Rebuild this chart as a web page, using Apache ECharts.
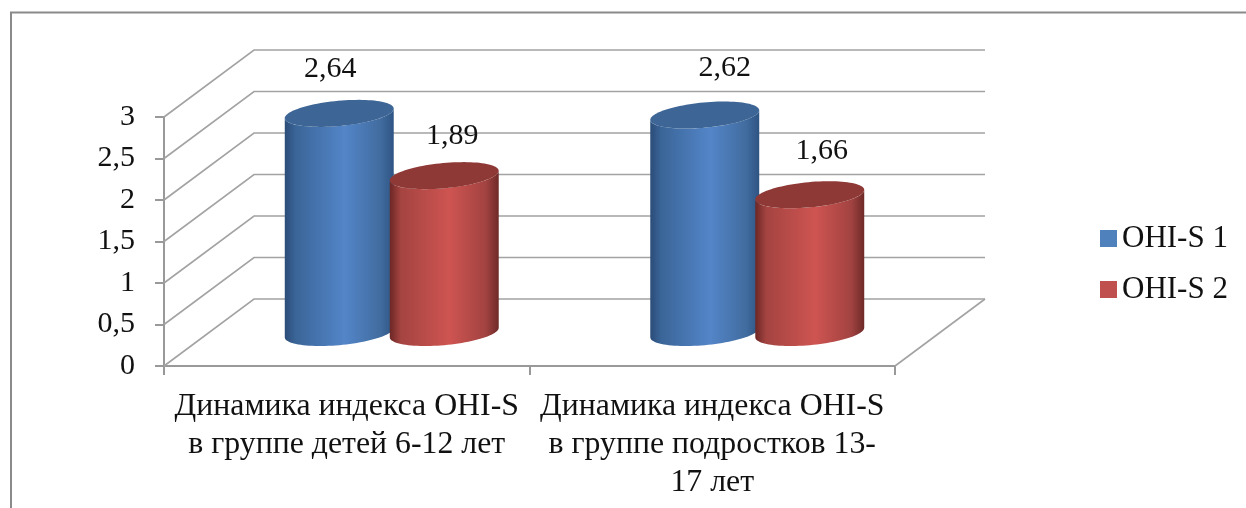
<!DOCTYPE html>
<html lang="ru">
<head>
<meta charset="utf-8">
<title>Динамика индекса OHI-S</title>
<style>
  html, body { margin: 0; padding: 0; background: #fff; }
  #chart { width: 1246px; height: 508px; }
</style>
<script src="https://cdn.jsdelivr.net/npm/echarts@6/dist/echarts.min.js"></script>
</head>
<body>
<div id="chart"></div>
<script>
const categories = [
  'Динамика индекса OHI-S\nв группе детей 6-12 лет',
  'Динамика индекса OHI-S\nв группе подростков 13-\n17 лет'
];
const seriesNames = ['OHI-S 1', 'OHI-S 2'];
const ohiS1 = [2.64, 2.62];
const ohiS2 = [1.89, 1.66];
const valueTicks = [0, 0.5, 1, 1.5, 2, 2.5, 3];

// Oblique projection of the chart box: how far the back wall sits from the front plane.
const DEPTH_X = 90;
const DEPTH_Y = 67;
const FONT = '"Liberation Serif", "Times New Roman", serif';
const NUMBER_SIZE = 30;
const CATEGORY_SIZE = 31.8;
const LEGEND_SIZE = 31;

// Cylinder footprint: a tilted ellipse.
const RADIUS_A = 54.7;
const RADIUS_B = 12.6;
const TILT = -5.3 * Math.PI / 180;
const SLOT_OFFSET = 52.5;

const palettes = [
  {
    flat: '#4F81BD', top: '#3D6696',
    body: [[0, '#2B4C78'], [0.1, '#3A6598'], [0.55, '#5385C8'], [0.88, '#416C9F'], [1, '#2E5483']]
  },
  {
    flat: '#C0504D', top: '#8E3936',
    body: [[0, '#6C2725'], [0.1, '#A44441'], [0.55, '#CE5451'], [0.88, '#A24341'], [1, '#6E2A28']]
  }
];

// Data label shifts per series and category, relative to the cylinder's top centre.
const labelShift = [
  [[-9, -44], [20, -47]],
  [[8, -40], [12, -44]]
];

function commaNumber(v, digits) {
  const text = digits === undefined ? String(v) : v.toFixed(digits);
  return text.replace('.', ',');
}

function ellipsePoint(cx, cy, t) {
  const ca = Math.cos(TILT), sa = Math.sin(TILT);
  const ex = RADIUS_A * Math.cos(t), ey = RADIUS_B * Math.sin(t);
  return [cx + ex * ca - ey * sa, cy + ex * sa + ey * ca];
}

function ellipseArc(cx, cy, from, to, steps) {
  const pts = [];
  for (let i = 0; i <= steps; i++) {
    pts.push(ellipsePoint(cx, cy, from + (to - from) * i / steps));
  }
  return pts;
}

// Draws the floor and wall lines through the value axis scale.
function renderWall(params, api) {
  const rect = params.coordSys;
  const y = api.coord([0, api.value(1)])[1];
  const left = rect.x, right = rect.x + rect.width;
  const lineStyle = { stroke: '#A3A3A3', lineWidth: 1.6, fill: null };
  const children = [{
    type: 'polyline',
    shape: { points: [[left, y], [left + DEPTH_X, y - DEPTH_Y], [right + DEPTH_X, y - DEPTH_Y]] },
    style: lineStyle
  }];
  if (api.value(1) === 0) {
    children.push({
      type: 'line',
      shape: { x1: right, y1: y, x2: right + DEPTH_X, y2: y - DEPTH_Y },
      style: lineStyle
    });
  }
  return { type: 'group', children };
}

function cylinderRenderer(seriesIndex) {
  const palette = palettes[seriesIndex];
  const direction = seriesIndex === 0 ? -1 : 1;
  return function (params, api) {
    const value = api.value(1);
    const base = api.coord([api.value(0), 0]);
    const head = api.coord([api.value(0), value]);
    // The cylinders stand halfway between the front plane and the back wall.
    const cx = base[0] + direction * SLOT_OFFSET + DEPTH_X / 2;
    const by = base[1] - DEPTH_Y / 2;
    const ty = head[1] - DEPTH_Y / 2;
    const edge = Math.atan2(-RADIUS_B * Math.sin(TILT), RADIUS_A * Math.cos(TILT));
    const lower = ellipseArc(cx, by, edge + Math.PI, edge, 48);
    const upper = ellipseArc(cx, ty, edge, edge + Math.PI, 48);
    const shift = labelShift[seriesIndex][params.dataIndex];
    return {
      type: 'group',
      children: [
        {
          type: 'polygon',
          shape: { points: lower.concat(upper) },
          style: {
            fill: new echarts.graphic.LinearGradient(0, 0, 1, 0,
              palette.body.map(s => ({ offset: s[0], color: s[1] })))
          }
        },
        {
          type: 'polygon',
          shape: { points: ellipseArc(cx, ty, 0, Math.PI * 2, 96) },
          style: { fill: palette.top }
        },
        {
          type: 'text',
          x: cx + shift[0],
          y: ty + shift[1],
          style: {
            text: commaNumber(value, 2),
            font: NUMBER_SIZE + 'px ' + FONT,
            fill: '#111',
            align: 'center',
            verticalAlign: 'middle'
          }
        }
      ]
    };
  };
}

const chart = echarts.init(document.getElementById('chart'), null, { renderer: 'canvas' });

chart.setOption({
  animation: false,
  backgroundColor: '#fff',
  textStyle: { fontFamily: FONT },
  grid: { left: 164, top: 117, width: 731, height: 249, containLabel: false },
  legend: {
    data: seriesNames,
    orient: 'vertical',
    left: 1100,
    top: 223,
    padding: 0,
    icon: 'rect',
    itemWidth: 17,
    itemHeight: 17,
    itemGap: 20,
    selectedMode: false,
    textStyle: { fontFamily: FONT, fontSize: LEGEND_SIZE, color: '#111', padding: 0 }
  },
  xAxis: {
    type: 'category',
    data: categories,
    axisLine: { lineStyle: { color: '#999', width: 2 } },
    axisTick: { show: true, length: 9, alignWithLabel: false, lineStyle: { color: '#999', width: 2 } },
    axisLabel: {
      interval: 0,
      margin: 22,
      color: '#111',
      fontFamily: FONT,
      fontSize: CATEGORY_SIZE,
      lineHeight: 38
    },
    splitLine: { show: false }
  },
  yAxis: {
    type: 'value',
    min: 0,
    max: 3,
    interval: 0.5,
    axisLine: { show: true, lineStyle: { color: '#999', width: 2 } },
    axisTick: { show: true, length: 9, lineStyle: { color: '#999', width: 2 } },
    axisLabel: {
      margin: 29,
      color: '#111',
      fontFamily: FONT,
      fontSize: NUMBER_SIZE,
      formatter: v => commaNumber(v)
    },
    splitLine: { show: false }
  },
  graphic: [{
    type: 'polyline',
    silent: true,
    shape: { points: [[11, 508], [11, 12.5], [1246, 12.5]] },
    style: { stroke: '#8A8A8A', lineWidth: 2, fill: null }
  }],
  series: [
    {
      name: 'wall',
      type: 'custom',
      z: 1,
      silent: true,
      clip: false,
      renderItem: renderWall,
      encode: { x: 0, y: 1 },
      data: valueTicks.map(v => [0, v])
    },
    {
      name: seriesNames[0],
      type: 'custom',
      z: 2,
      clip: false,
      itemStyle: { color: palettes[0].flat },
      renderItem: cylinderRenderer(0),
      encode: { x: 0, y: 1 },
      data: ohiS1.map((v, i) => [i, v])
    },
    {
      name: seriesNames[1],
      type: 'custom',
      z: 3,
      clip: false,
      itemStyle: { color: palettes[1].flat },
      renderItem: cylinderRenderer(1),
      encode: { x: 0, y: 1 },
      data: ohiS2.map((v, i) => [i, v])
    }
  ]
});
</script>
</body>
</html>
